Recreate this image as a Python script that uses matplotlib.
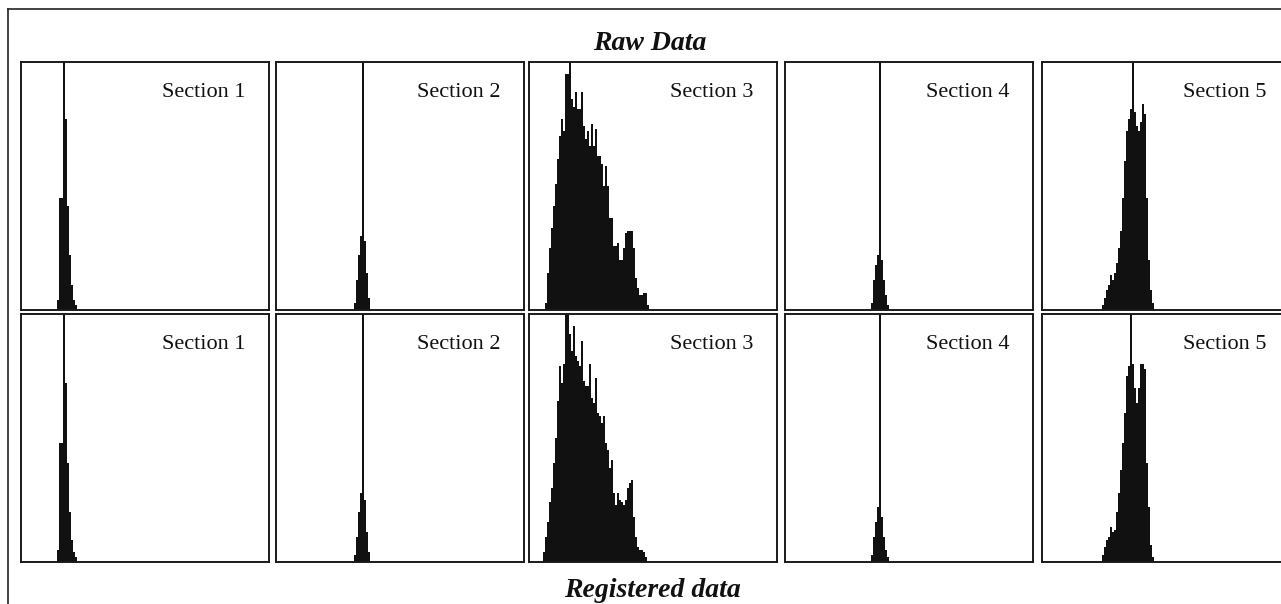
import matplotlib.pyplot as plt
from matplotlib.lines import Line2D

# histogram bins (2 units wide, x axis 0..248), heights as fraction of panel height
sections = ["Section 1", "Section 2", "Section 3", "Section 4", "Section 5"]

raw_start = [36, 78, 16, 86, 60]
raw_s1 = [0.04, 0.45, 0.45, 1.2, 0.77, 0.42, 0.22, 0.10, 0.04, 0.02]
raw_s2 = [0.03, 0.12, 0.22, 0.30, 1.2, 0.28, 0.15, 0.05]
raw_s3 = [0.03, 0.15, 0.25, 0.33, 0.42, 0.51, 0.61, 0.70, 0.77, 0.72,
          0.95, 0.95, 1.2, 0.85, 0.82, 0.88, 0.81, 0.81, 0.88, 0.74,
          0.69, 0.72, 0.66, 0.75, 0.66, 0.73, 0.62, 0.62, 0.59, 0.50,
          0.58, 0.50, 0.37, 0.37, 0.26, 0.26, 0.27, 0.20, 0.20, 0.25,
          0.31, 0.32, 0.32, 0.32, 0.25, 0.13, 0.09, 0.06, 0.06, 0.07,
          0.07, 0.02]
raw_s4 = [0.03, 0.12, 0.18, 0.22, 1.2, 0.20, 0.12, 0.06, 0.02]
raw_s5 = [0.02, 0.05, 0.08, 0.10, 0.14, 0.12, 0.15, 0.19, 0.25, 0.32,
          0.45, 0.60, 0.72, 0.77, 0.81, 1.2, 0.80, 0.74, 0.72, 0.76,
          0.83, 0.79, 0.45, 0.20, 0.08, 0.03]

reg_start = [36, 78, 14, 86, 60]
reg_s1 = [0.05, 0.48, 0.48, 1.2, 0.72, 0.40, 0.20, 0.09, 0.04, 0.02]
reg_s2 = [0.03, 0.10, 0.20, 0.28, 1.2, 0.25, 0.12, 0.04]
reg_s3 = [0.04, 0.10, 0.16, 0.24, 0.30, 0.40, 0.50, 0.65, 0.79, 0.72,
          0.80, 1.2, 1.2, 0.92, 0.85, 0.95, 0.83, 0.81, 0.79, 0.89,
          0.73, 0.71, 0.71, 0.80, 0.66, 0.64, 0.74, 0.60, 0.59, 0.56,
          0.59, 0.48, 0.45, 0.38, 0.41, 0.28, 0.23, 0.28, 0.25, 0.24,
          0.23, 0.25, 0.30, 0.32, 0.33, 0.18, 0.10, 0.06, 0.05, 0.05,
          0.04, 0.02]
reg_s4 = [0.03, 0.10, 0.16, 0.22, 1.2, 0.18, 0.10, 0.05, 0.02]
reg_s5 = [0.03, 0.06, 0.09, 0.10, 0.14, 0.12, 0.13, 0.20, 0.28, 0.37,
          0.48, 0.60, 0.75, 0.79, 1.2, 0.80, 0.70, 0.64, 0.70, 0.80,
          0.80, 0.78, 0.40, 0.22, 0.07, 0.02]

raw_heights = [raw_s1, raw_s2, raw_s3, raw_s4, raw_s5]
reg_heights = [reg_s1, reg_s2, reg_s3, reg_s4, reg_s5]

W, H = 1281, 604
fig = plt.figure(figsize=(W / 100, H / 100), dpi=100)

col_left = [21, 276, 529, 785, 1042]
row_top = [62, 314]
pw, ph = 248, 248

serif = ["Liberation Serif", "DejaVu Serif"]


def panel(left, top, start, heights, label):
    ax = fig.add_axes([left / W, 1 - (top + ph) / H, pw / W, ph / H])
    xs = [start + 2 * i for i in range(len(heights))]
    ax.bar(xs, heights, width=2, align="edge", color="#111111", linewidth=0)
    ax.set_xlim(0, pw)
    ax.set_ylim(0, 1)
    ax.set_xticks([])
    ax.set_yticks([])
    for sp in ax.spines.values():
        sp.set_linewidth(1.4)
        sp.set_color("#1a1a1a")
    ax.text(0.905, 0.857, label, transform=ax.transAxes, ha="right",
            va="baseline", fontsize=16, family=serif, color="#111111")
    return ax


for i in range(5):
    panel(col_left[i], row_top[0], raw_start[i], raw_heights[i], sections[i])
    panel(col_left[i], row_top[1], reg_start[i], reg_heights[i], sections[i])

# outer frame (left and top edges visible)
fig.add_artist(Line2D([8 / W, 8 / W], [0, 1 - 9 / H], color="#222222", lw=1.2))
fig.add_artist(Line2D([8 / W, 1], [1 - 9 / H, 1 - 9 / H], color="#222222", lw=1.2))

fig.text(650 / W, 1 - 50 / H, "Raw Data", ha="center", va="baseline",
         fontsize=20, family=serif, style="italic", weight="bold", color="#111111")
fig.text(652 / W, 1 - 597 / H, "Registered data", ha="center", va="baseline",
         fontsize=20, family=serif, style="italic", weight="bold", color="#111111")

fig.savefig("out.png", dpi=100)
